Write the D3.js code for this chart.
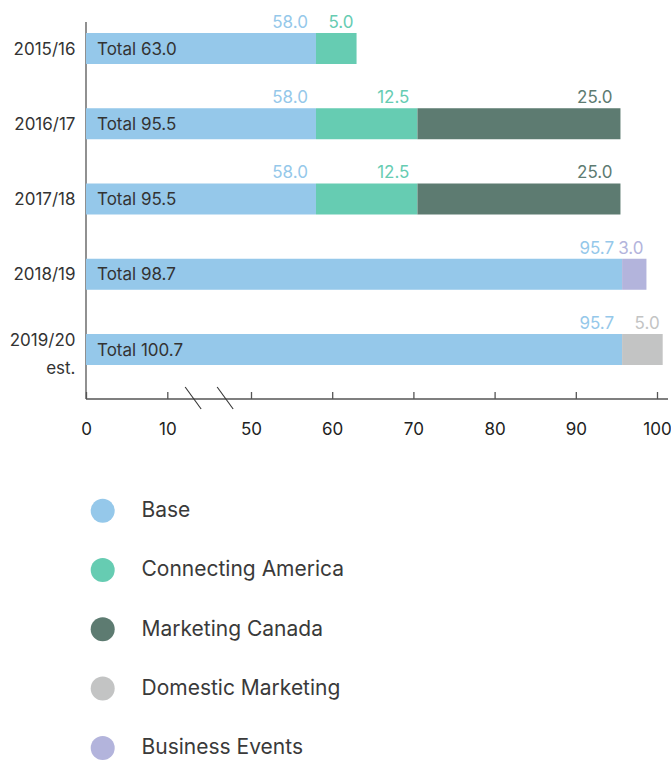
<!DOCTYPE html>
<html>
<head>
<meta charset="utf-8">
<script src="https://cdn.jsdelivr.net/npm/d3@7"></script>
<style>
  body { margin: 0; background: #fff; }
  svg { display: block; font-family: Inter, "Noto Sans", sans-serif; }
</style>
</head>
<body>
<svg id="chart" width="671" height="762"></svg>
<script>
const categories = ["2015/16", "2016/17", "2017/18", "2018/19", "2019/20 est."];
const seriesNames = ["Base", "Connecting America", "Marketing Canada", "Business Events", "Domestic Marketing"];
const baseValues        = [58.0, 58.0, 58.0, 95.7, 95.7];
const connectingValues  = [5.0, 12.5, 12.5, 0, 0];
const canadaValues      = [0, 25.0, 25.0, 0, 0];
const businessValues    = [0, 0, 0, 3.0, 0];
const domesticValues    = [0, 0, 0, 0, 5.0];
const tickValues = [0, 10, 50, 60, 70, 80, 90, 100];
const legendOrder = ["Base", "Connecting America", "Marketing Canada", "Domestic Marketing", "Business Events"];
const colors = {
  "Base": "#95c8ea",
  "Connecting America": "#66ccb2",
  "Marketing Canada": "#5d7b71",
  "Domestic Marketing": "#c3c4c4",
  "Business Events": "#b3b4dc"
};

const seriesValues = {
  "Base": baseValues,
  "Connecting America": connectingValues,
  "Marketing Canada": canadaValues,
  "Business Events": businessValues,
  "Domestic Marketing": domesticValues
};

const rows = categories.map((c, i) => {
  const r = { category: c };
  seriesNames.forEach(s => r[s] = seriesValues[s][i]);
  return r;
});

const stacked = d3.stack().keys(seriesNames)(rows);

const svg = d3.select("#chart");

// Broken axis: the 10..50 stretch is compressed
const x = d3.scaleLinear().domain([0, 10, 50, 100]).range([86, 167.3, 251, 657]);
const y = d3.scaleBand().domain(categories).range([-11.25, 409.25]).paddingInner(0.588).paddingOuter(0.588);

const axisY = 399;
const fs = 17;

// vertical axis line
svg.append("line")
  .attr("x1", x(0)).attr("x2", x(0))
  .attr("y1", 22).attr("y2", axisY)
  .attr("stroke", "#555").attr("stroke-width", 1.3);

// bars
const groups = svg.append("g").selectAll("g")
  .data(stacked).join("g")
  .attr("fill", d => colors[d.key]);

const segs = d => d.map(p => ({ p, key: d.key })).filter(o => o.p[1] - o.p[0] > 0);

groups.selectAll("rect")
  .data(segs)
  .join("rect")
  .attr("x", o => x(o.p[0]))
  .attr("width", o => x(o.p[1]) - x(o.p[0]))
  .attr("y", o => y(o.p.data.category))
  .attr("height", y.bandwidth());

// value labels above segments
groups.selectAll("text")
  .data(segs)
  .join("text")
  .attr("x", o => {
    const w = x(o.p[1]) - x(o.p[0]);
    return x(o.p[1]) - (w > 50 ? 8 : 3);
  })
  .attr("y", o => y(o.p.data.category) - 5)
  .attr("text-anchor", "end")
  .attr("font-size", fs)
  .attr("fill", o => colors[o.key])
  .text(o => d3.format(".1f")(o.p[1] - o.p[0]));

// total labels inside bars
svg.append("g").selectAll("text")
  .data(rows).join("text")
  .attr("x", x(0) + 11)
  .attr("y", d => y(d.category) + y.bandwidth() / 2)
  .attr("dy", "0.36em")
  .attr("font-size", fs)
  .attr("fill", "#333")
  .text(d => "Total " + d3.format(".1f")(d3.sum(seriesNames, s => d[s])));

// category labels
const catG = svg.append("g").selectAll("text")
  .data(categories).join("text")
  .attr("text-anchor", "end")
  .attr("font-size", fs)
  .attr("fill", "#333");
catG.each(function(c) {
  const parts = c.split(" ");
  const t = d3.select(this);
  const cy = y(c) + y.bandwidth() / 2;
  const lh = 28;
  const n = parts.length;
  parts.forEach((p, i) => {
    t.append("tspan")
      .attr("x", 75.5)
      .attr("y", cy + (i - (n - 1) / 2) * lh + (n - 1) * 4.5)
      .attr("dy", "0.36em")
      .text(p);
  });
});

// x axis
const xAxis = d3.axisBottom(x).tickValues(tickValues).tickSize(-7).tickPadding(24).tickFormat(d3.format("d"));
const ax = svg.append("g").attr("transform", `translate(0,${axisY})`).call(xAxis);
ax.select(".domain").remove();
ax.selectAll(".tick line").attr("stroke", "#555").attr("stroke-width", 1.3);
ax.selectAll(".tick text").attr("font-size", fs).attr("fill", "#222").attr("font-family", "Inter, 'Noto Sans', sans-serif");
svg.append("line")
  .attr("x1", x(0)).attr("x2", x(100) + 11)
  .attr("y1", axisY).attr("y2", axisY)
  .attr("stroke", "#555").attr("stroke-width", 1.3);

// break marks
const mid = (x(10) + x(50)) / 2;
[-16, 16].forEach(off => {
  svg.append("line")
    .attr("x1", mid + off - 8).attr("y1", axisY - 12)
    .attr("x2", mid + off + 8).attr("y2", axisY + 10)
    .attr("stroke", "#333").attr("stroke-width", 1.1);
});

// legend
const leg = svg.append("g").selectAll("g")
  .data(legendOrder).join("g")
  .attr("transform", (d, i) => `translate(0,${510.7 + i * 59.3})`);
leg.append("circle").attr("cx", 102.7).attr("cy", 0).attr("r", 12).attr("fill", d => colors[d]);
leg.append("text").attr("x", 141.5).attr("y", 0).attr("dy", "0.3em")
  .attr("font-size", 21).attr("fill", "#3a3a3a").text(d => d);
</script>
</body>
</html>
